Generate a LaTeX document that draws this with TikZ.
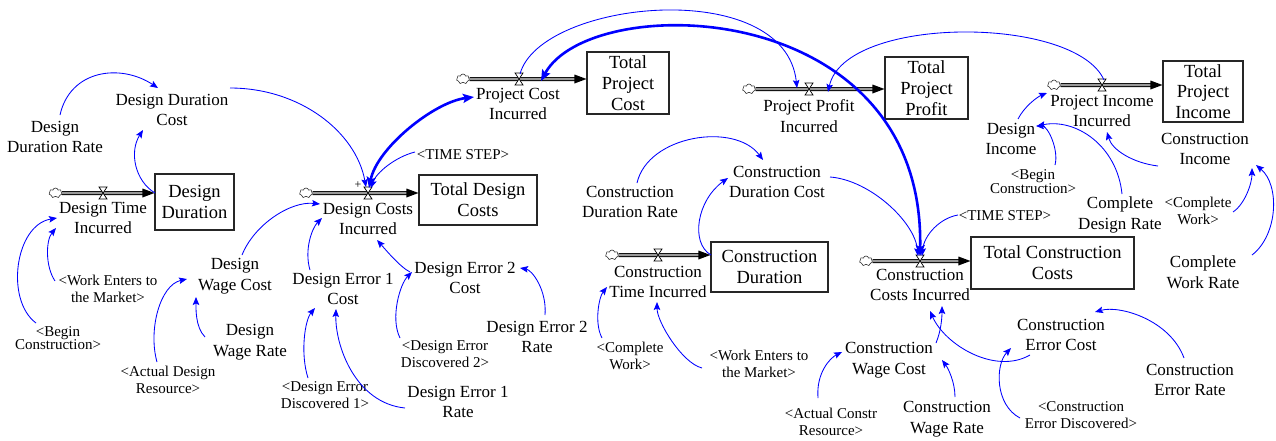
\documentclass[tikz,border=0pt]{standalone}
\usepackage{fontspec}
\setmainfont{Liberation Serif}
\usetikzlibrary{arrows.meta,shapes.symbols}
\newcommand\fVar{\fontsize{17}{20.5}\selectfont}
\newcommand\fStock{\fontsize{18.5}{20.8}\selectfont}
\newcommand\fSmall{\fontsize{15}{17}\selectfont}
\newcommand\fTight{\fontsize{15}{13.8}\selectfont}
\definecolor{linkblue}{RGB}{0,0,255}
\tikzset{
 vartext/.style={align=center, inner sep=0pt, font=\fVar},
 smalltext/.style={align=center, inner sep=0pt, font=\fSmall},
 tighttext/.style={align=center, inner sep=0pt, font=\fTight},
 stockbox/.style={draw=black!85, line width=1.1pt, align=center, inner sep=0pt, font=\fStock},
 infolink/.style={draw=linkblue, line width=0.85pt, -{Stealth[length=8pt,width=6.5pt,inset=1.5pt]}},
 boldlink/.style={draw=linkblue, line width=2.6pt, {Stealth[length=11pt,width=9pt,inset=2pt]}-{Stealth[length=11pt,width=9pt,inset=2pt]}},
 pipeline/.style={draw=black, line width=0.9pt, double=black!40, double distance=2.2pt},
 cloudsrc/.style={cloud, cloud puffs=7, draw=black!80, line width=0.6pt, fill=white, minimum width=13pt, minimum height=10pt, inner sep=0pt, aspect=1.3},
 pics/valve/.style={code={\draw[fill=white, line width=0.7pt] (-4,-6) -- (4,-6) -- (-4,6) -- (4,6) -- cycle;}}
}
\newcommand\flowpipe[3]{%
  \coordinate (#3tip) at (#3.west |- #2);
  \draw[pipeline] (#1.east) -- ([xshift=-11pt]#3tip);
  \fill[black] (#3tip) -- ++(-12,-4.5) -- ++(0,9) -- cycle;
  \pic at (#2) {valve};
}
\begin{document}
\begin{tikzpicture}[x=1pt,y=-1pt]
\useasboundingbox (0,0) rectangle (1276,440);
% ---------- stocks ----------
\node[stockbox, minimum width=79pt, minimum height=56pt] (dd) at (194.5,202) {Design\\Duration};
\node[stockbox, minimum width=118pt, minimum height=50pt] (tdc) at (478,200) {Total Design\\Costs};
\node[stockbox, minimum width=82pt, minimum height=62pt] (tpc) at (628,83) {Total\\Project\\Cost};
\node[stockbox, minimum width=117pt, minimum height=50pt] (cd) at (769.5,267) {Construction\\Duration};
\node[stockbox, minimum width=163pt, minimum height=52pt] (tcc) at (1052.5,263) {Total Construction\\Costs};
\node[stockbox, minimum width=83pt, minimum height=62pt] (tpp) at (926.5,88) {Total\\Project\\Profit};
\node[stockbox, minimum width=80pt, minimum height=61pt] (tpi) at (1203,91.5) {Total\\Project\\Income};
% ---------- clouds and valves ----------
\node[cloudsrc] (c1) at (55.5,193) {};
\node[cloudsrc] (c2) at (306,193) {};
\node[cloudsrc] (c3) at (463,79) {};
\node[cloudsrc] (c4) at (612,255) {};
\node[cloudsrc] (c5) at (866,261) {};
\node[cloudsrc] (c6) at (749,89) {};
\node[cloudsrc] (c7) at (1054,85) {};
\coordinate (v1) at (103,193);
\coordinate (v2) at (368,193);
\coordinate (v3) at (519,79);
\coordinate (v4) at (658,255);
\coordinate (v5) at (920,261);
\coordinate (v6) at (809,89);
\coordinate (v7) at (1102,85);
\flowpipe{c1}{v1}{dd}
\flowpipe{c2}{v2}{tdc}
\flowpipe{c3}{v3}{tpc}
\flowpipe{c4}{v4}{cd}
\flowpipe{c5}{v5}{tcc}
\flowpipe{c6}{v6}{tpp}
\flowpipe{c7}{v7}{tpi}
\node[font=\fontsize{12}{12}\selectfont, inner sep=0pt] (plus) at (358,185) {+};
% ---------- variables ----------
\node[vartext] (ddr) at (55,137) {Design\\Duration Rate};
\node[vartext] (ddc) at (172,110) {Design Duration\\Cost};
\node[vartext] (dti) at (103,218) {Design Time\\Incurred};
\node[tighttext] (bc1) at (58,338) {<Begin\\Construction>};
\node[smalltext] (wem1) at (108,289) {<Work Enters to\\the Market>};
\node[vartext] (dwc) at (235,276) {Design\\Wage Cost};
\node[vartext] (dwr) at (250,342) {Design\\Wage Rate};
\node[smalltext] (adr) at (168,380) {<Actual Design\\Resource>};
\node[vartext] (dci) at (368,219) {Design Costs\\Incurred};
\node[smalltext] (ts1) at (463,155) {<TIME STEP>};
\node[vartext] (de1c) at (343,289) {Design Error 1\\Cost};
\node[vartext] (de2c) at (465,278) {Design Error 2\\Cost};
\node[smalltext] (ded2) at (445,354) {<Design Error\\Discovered 2>};
\node[vartext] (de2r) at (537,337) {Design Error 2\\Rate};
\node[smalltext] (ded1) at (325,395) {<Design Error\\Discovered 1>};
\node[vartext] (de1r) at (458,402) {Design Error 1\\Rate};
\node[vartext] (pci) at (518,104) {Project Cost\\Incurred};
\node[vartext] (cdr) at (630,202) {Construction\\Duration Rate};
\node[vartext] (cdc) at (777,182) {Construction\\Duration Cost};
\node[vartext] (cti) at (658,282) {Construction\\Time Incurred};
\node[smalltext] (cw2) at (630,356) {<Complete\\Work>};
\node[smalltext] (wem2) at (759,364) {<Work Enters to\\the Market>};
\node[vartext] (cci) at (920,285) {Construction\\Costs Incurred};
\node[smalltext] (ts2) at (1005,216) {<TIME STEP>};
\node[vartext] (ppi) at (809,116) {Project Profit\\Incurred};
\node[vartext] (pii) at (1102,111) {Project Income\\Incurred};
\node[vartext] (di) at (1011,139) {Design\\Income};
\node[tighttext] (bc2) at (1033,182) {<Begin\\Construction>};
\node[vartext] (ci) at (1205,149) {Construction\\Income};
\node[vartext] (cdrate) at (1120,215) {Complete\\Design Rate};
\node[smalltext] (cw3) at (1198,211) {<Complete\\Work>};
\node[vartext] (cwr) at (1203,272) {Complete\\Work Rate};
\node[vartext] (cec) at (1061,335) {Construction\\Error Cost};
\node[vartext] (cer) at (1190,380) {Construction\\Error Rate};
\node[smalltext] (ced) at (1081,415) {<Construction\\Error Discovered>};
\node[vartext] (cwc) at (889,360) {Construction\\Wage Cost};
\node[vartext] (cwrate) at (947,419) {Construction\\Wage Rate};
\node[smalltext] (acr) at (831,422) {<Actual Constr\\Resource>};
% ---------- bold links ----------
\draw[boldlink] ([shift={(1,-5)}]v2) .. controls (377,148) and (434,102) .. ([shift={(-44,-7)}]pci.center);
\draw[boldlink] ([shift={(22,2)}]v3) .. controls (590,-10) and (925,-5) .. ([shift={(0,-5)}]v5);
% ---------- information links ----------
\draw[infolink] ([shift={(5,-22)}]ddr.center) .. controls (70,70) and (120,63) .. ([shift={(-14,-22)}]ddc.center);
\draw[infolink] ([shift={(-39.5,-9)}]dd.center) .. controls (135,181) and (129,152) .. ([shift={(-29,20)}]ddc.center);
\draw[infolink] ([shift={(58,-22)}]ddc.center) .. controls (300,88) and (356,132) .. ([shift={(-2,-6)}]v2);
\draw[infolink] ([shift={(-48,-3)}]ts1.center) .. controls (395,157) and (376,173) .. ([shift={(3,-5)}]v2);
\draw[infolink] ([shift={(1,-5)}]v3) .. controls (540,0) and (785,-25) .. ([shift={(-12,-1)}]v6);
\draw[infolink] ([shift={(2,-5)}]v7) .. controls (1075,15) and (845,15) .. ([shift={(19,3)}]v6);
\draw[infolink] ([shift={(7,-19)}]cdr.center) .. controls (648,135) and (735,122) .. ([shift={(-14,-22)}]cdc.center);
\draw[infolink] ([shift={(-58.5,-12)}]cd.center) .. controls (690,243) and (697,200) .. ([shift={(-49,-4)}]cdc.center);
\draw[infolink] ([shift={(53,-5)}]cdc.center) .. controls (870,180) and (915,222) .. ([shift={(-2,-5)}]v5);
\draw[infolink] ([shift={(-47,-1)}]ts2.center) .. controls (940,218) and (924,235) .. ([shift={(2,-5)}]v5);
\draw[infolink] ([shift={(7,-20)}]di.center) .. controls (1024,107) and (1037,97) .. ([shift={(-55,-18)}]pii.center);
\draw[infolink] ([shift={(22,-17)}]bc2.center) .. controls (1059,150) and (1048,126) .. ([shift={(25,-13)}]di.center);
\draw[infolink] ([shift={(2,-21)}]cdrate.center) .. controls (1117,145) and (1075,118) .. ([shift={(26,-13)}]di.center);
\draw[infolink] ([shift={(-47,17)}]ci.center) .. controls (1133,163) and (1112,150) .. ([shift={(5,21)}]pii.center);
\draw[infolink] ([shift={(35,1)}]cw3.center) .. controls (1245,204) and (1252,183) .. ([shift={(47,19)}]ci.center);
\draw[infolink] ([shift={(49,-17)}]cwr.center) .. controls (1278,235) and (1280,185) .. ([shift={(51,16)}]ci.center);
\draw[infolink] ([shift={(47,-17)}]cwc.center) .. controls (941,331) and (942,318) .. ([shift={(22,21)}]cci.center);
\draw[infolink] ([shift={(-31,20)}]cec.center) .. controls (995,375) and (945,345) .. ([shift={(10,26)}]cci.center);
\draw[infolink] ([shift={(-6,-22)}]cer.center) .. controls (1170,320) and (1120,305) .. ([shift={(34,-23)}]cec.center);
\draw[infolink] ([shift={(-61,3)}]ced.center) .. controls (995,405) and (995,365) .. ([shift={(-50,13)}]cec.center);
\draw[infolink] ([shift={(-13,-24)}]acr.center) .. controls (816,373) and (830,358) .. ([shift={(-47,-8)}]cwc.center);
\draw[infolink] ([shift={(8,-22)}]cwrate.center) .. controls (955,382) and (948,368) .. ([shift={(53,0)}]cwc.center);
\draw[infolink] ([shift={(-57,4)}]wem2.center) .. controls (682,363) and (657,322) .. ([shift={(-1,20)}]cti.center);
\draw[infolink] ([shift={(-28,-18)}]cw2.center) .. controls (594,323) and (599,297) .. ([shift={(-51,5)}]cti.center);
\draw[infolink] ([shift={(8,-22)}]de2r.center) .. controls (547,290) and (532,270) .. ([shift={(55,-10)}]de2c.center);
\draw[infolink] ([shift={(-45,-16)}]ded2.center) .. controls (390,318) and (400,284) .. ([shift={(-53,-6)}]de2c.center);
\draw[infolink] ([shift={(-55,-6)}]de2c.center) .. controls (400,267) and (385,249) .. ([shift={(9,21)}]dci.center);
\draw[infolink] ([shift={(-33,-19)}]de1c.center) .. controls (304,250) and (312,228) .. ([shift={(-46,-1)}]dci.center);
\draw[infolink] ([shift={(-17,-17)}]ded1.center) .. controls (300,353) and (305,320) .. ([shift={(-28,19)}]de1c.center);
\draw[infolink] ([shift={(-53,6)}]de1r.center) .. controls (355,403) and (335,345) .. ([shift={(-7,20)}]de1c.center);
\draw[infolink] ([shift={(7,-21)}]dwc.center) .. controls (254,225) and (290,201) .. ([shift={(-48,-15)}]dci.center);
\draw[infolink] ([shift={(-45,-5)}]dwr.center) .. controls (195,327) and (196,307) .. ([shift={(-39,21)}]dwc.center);
\draw[infolink] ([shift={(-11,-18)}]adr.center) .. controls (148,330) and (160,285) .. ([shift={(-48,3)}]dwc.center);
\draw[infolink] ([shift={(-22,-15)}]bc1.center) .. controls (5,300) and (15,225) .. ([shift={(-46,0)}]dti.center);
\draw[infolink] ([shift={(-53,-8)}]wem1.center) .. controls (45,266) and (46,240) .. ([shift={(-47,10)}]dti.center);
\end{tikzpicture}
\end{document}
